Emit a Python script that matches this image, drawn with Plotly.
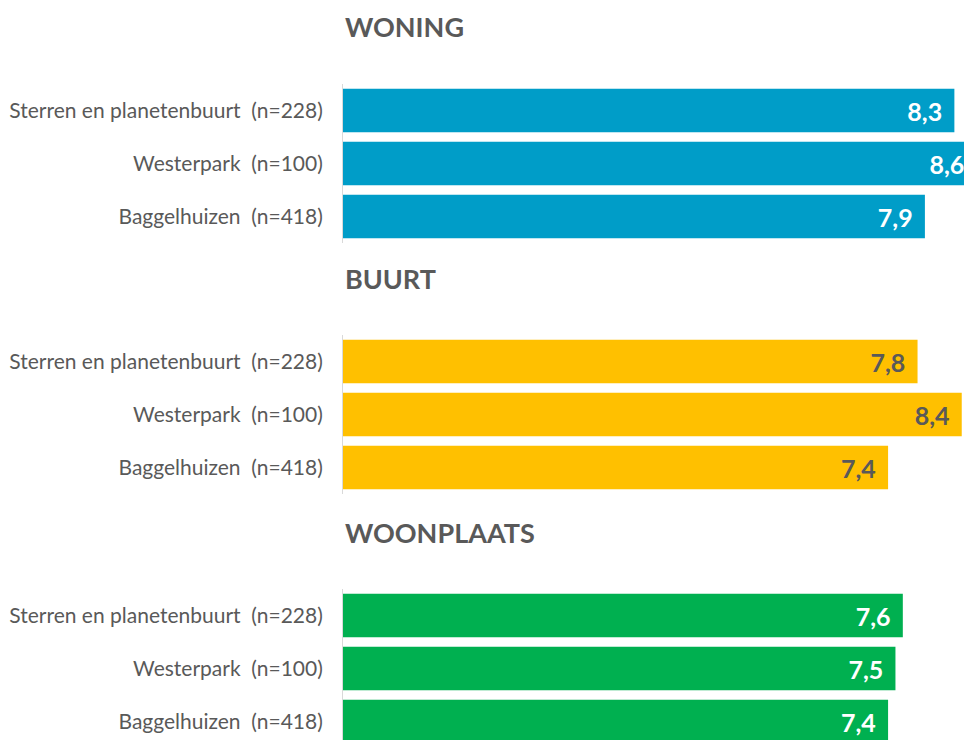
import plotly.graph_objects as go

categories = ["Sterren en planetenbuurt\u00a0\u00a0(n=228)", "Westerpark\u00a0\u00a0(n=100)", "Baggelhuizen\u00a0\u00a0(n=418)"]
titles = ["WONING", "BUURT", "WOONPLAATS"]
woning = [8.3, 8.6, 7.9]
buurt = [7.8, 8.4, 7.4]
woonplaats = [7.6, 7.5, 7.4]
series = [woning, buurt, woonplaats]
colors = ["#009DC8", "#FFC000", "#00B050"]
text_colors = ["#FFFFFF", "#595959", "#FFFFFF"]

# the page body has an 8px margin: the figure is drawn at (8, 8)
OFF = 8
W, H = 972 - OFF, 740 - OFF
FONT = "Lato"

# panel bands in screen pixels (top, bottom)
panels_px = [(84, 243), (335, 494), (589, 740)]
CAT_PX = 53.0
x_left = 343 - OFF
xmax = (W - x_left) / 73.66

fig = go.Figure()
for i, (vals, col, tc) in enumerate(zip(series, colors, text_colors)):
    n = "" if i == 0 else str(i + 1)
    top, bot = panels_px[i]
    top -= OFF
    bot = min(bot - OFF, H)
    ybottom = -0.5 + (bot - top) / CAT_PX
    fig.add_trace(go.Bar(
        x=vals, y=categories, orientation="h",
        marker=dict(color=col, line=dict(width=0)),
        texttemplate="%{x:.1f}\u00a0\u2009", textposition="inside",
        insidetextanchor="end",
        textfont=dict(family=FONT, size=25, color=tc, weight="bold"),
        constraintext="none",
        cliponaxis=True,
        xaxis="x" + n, yaxis="y" + n, showlegend=False, hoverinfo="skip",
    ))
    fig.layout["xaxis" + n] = dict(
        domain=[x_left / W, 1], range=[0, xmax], visible=False,
        anchor="y" + n, fixedrange=True,
    )
    fig.layout["yaxis" + n] = dict(
        domain=[1 - bot / H, 1 - top / H], range=[ybottom, -0.5],
        anchor="x" + n, showline=True, linecolor="#D9D9D9", linewidth=1,
        showgrid=False, zeroline=False, ticks="",
        ticklabelstandoff=15,
        tickfont=dict(family=FONT, size=21, color="#595959"),
        automargin=False, fixedrange=True,
    )
    fig.add_annotation(
        text=titles[i], xref="paper", yref="paper",
        x=(343 - OFF) / W, y=1 - (top - 57) / H, xanchor="left", yanchor="middle",
        showarrow=False,
        font=dict(family=FONT, size=27, color="#595959", weight="bold"),
    )

fig.update_layout(
    width=W, height=H, margin=dict(l=0, r=0, t=0, b=0),
    paper_bgcolor="white", plot_bgcolor="white",
    bargap=0.18, separators=",.",
)
fig.write_html("out.html")
